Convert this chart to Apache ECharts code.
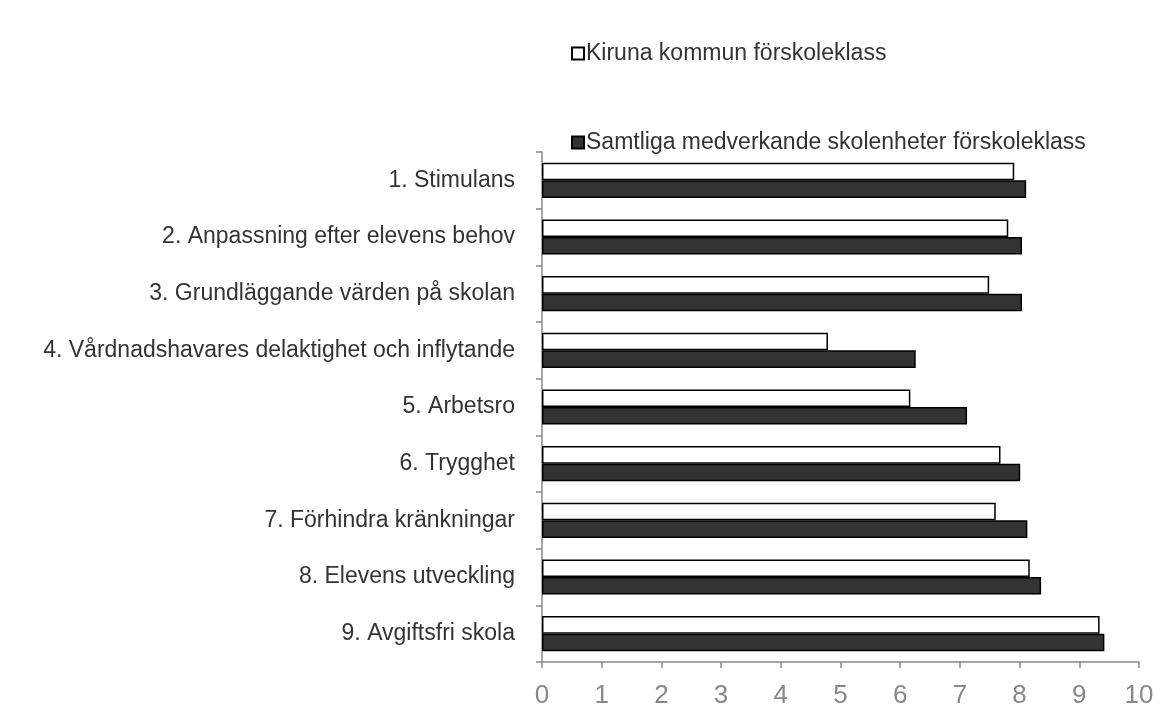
<!DOCTYPE html>
<html>
<head>
<meta charset="utf-8">
<script src="https://cdn.jsdelivr.net/npm/echarts@6/dist/echarts.min.js"></script>
<style>
  html, body { margin: 0; padding: 0; background: #fff; }
  #chart { width: 1158px; height: 709px; }
</style>
</head>
<body>
<div id="chart"></div>
<script>
// kategorier, uppifrån och ned
const categories = [
  "1. Stimulans",
  "2. Anpassning efter elevens behov",
  "3. Grundläggande värden på skolan",
  "4. Vårdnadshavares delaktighet och inflytande",
  "5. Arbetsro",
  "6. Trygghet",
  "7. Förhindra kränkningar",
  "8. Elevens utveckling",
  "9. Avgiftsfri skola"
];
const kiruna = [7.91, 7.81, 7.49, 4.79, 6.17, 7.68, 7.60, 8.17, 9.34];
const samtliga = [8.11, 8.04, 8.04, 6.26, 7.12, 8.01, 8.13, 8.36, 9.42];
const xTicks = [0, 1, 2, 3, 4, 5, 6, 7, 8, 9, 10];

const font = "Liberation Sans, Arial, sans-serif";
const chart = echarts.init(document.getElementById("chart"));

const option = {
  animation: false,
  textStyle: { fontFamily: font },
  legend: {
    orient: "vertical",
    left: 566,
    top: 37,
    itemGap: 66,
    itemWidth: 12,
    itemHeight: 12,
    icon: "rect",
    textStyle: { fontSize: 23, color: "#333", fontFamily: font, padding: [0, 0, 0, -3] },
    data: ["Kiruna kommun förskoleklass", "Samtliga medverkande skolenheter förskoleklass"]
  },
  grid: {
    left: 542,
    right: 19,
    top: 152,
    bottom: 46,
    containLabel: false
  },
  xAxis: {
    type: "value",
    min: xTicks[0],
    max: xTicks[xTicks.length - 1],
    interval: 1,
    splitLine: { show: false },
    axisLine: { show: true, lineStyle: { color: "#888", width: 1.5 } },
    axisTick: { show: true, length: 6, lineStyle: { color: "#888", width: 1.5 } },
    axisLabel: { fontSize: 26, color: "#888", margin: 21, fontFamily: font }
  },
  yAxis: {
    type: "category",
    inverse: true,
    data: categories,
    axisLine: { show: true, lineStyle: { color: "#888", width: 1.5 } },
    axisTick: { show: true, length: 6, lineStyle: { color: "#888", width: 1.5 } },
    axisLabel: { fontSize: 23, color: "#333", margin: 27, fontFamily: font }
  },
  series: [
    {
      name: "Kiruna kommun förskoleklass",
      type: "bar",
      data: kiruna,
      barGap: "0%",
      barCategoryGap: "38%",
      itemStyle: { color: "#fff", borderColor: "#000", borderWidth: 1.5 }
    },
    {
      name: "Samtliga medverkande skolenheter förskoleklass",
      type: "bar",
      data: samtliga,
      itemStyle: { color: "#333", borderColor: "#000", borderWidth: 1.5 }
    }
  ]
};

chart.setOption(option);
</script>
</body>
</html>
